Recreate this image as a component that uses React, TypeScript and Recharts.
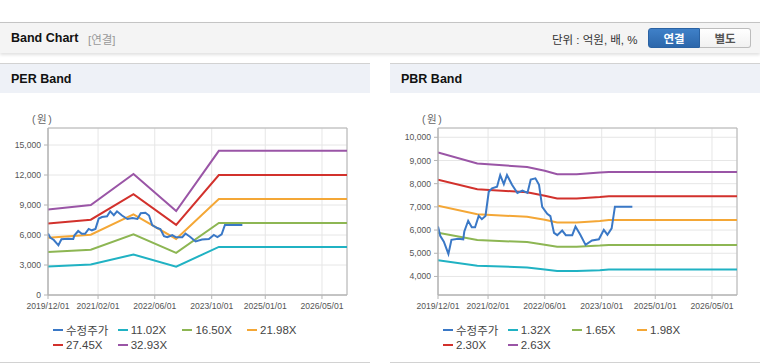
import { LineChart, Line, XAxis, YAxis, CartesianGrid, ReferenceArea } from 'recharts';

// adjusted close (수정주가), shared by both charts
const PRICE_DATES = [
  '2019-12-01', '2019-12-20', '2020-01-20', '2020-02-28', '2020-03-25', '2020-05-22',
  '2020-07-04', '2020-07-13', '2020-08-15', '2020-09-15', '2020-10-13', '2020-11-13',
  '2020-12-10', '2021-01-10', '2021-02-07', '2021-03-07', '2021-04-19', '2021-05-16',
  '2021-06-16', '2021-07-13', '2021-08-25', '2021-10-10', '2021-11-22', '2022-01-04',
  '2022-02-01', '2022-03-13', '2022-04-13', '2022-05-10', '2022-06-22', '2022-07-19',
  '2022-08-19', '2022-09-16', '2022-10-28', '2022-11-28', '2023-01-22', '2023-02-19',
  '2023-04-01', '2023-05-16', '2023-07-10', '2023-09-07', '2023-10-19', '2023-11-19',
  '2023-12-25', '2024-01-22', '2024-06-19',
];
const PRICE = [
  6150, 5750, 5500, 4970, 5580, 5620,
  5600, 5940, 6400, 6120, 6120, 6610,
  6470, 6610, 7650, 7800, 7870, 8370,
  7980, 8370, 7950, 7600, 7700, 7600,
  8180, 8230, 7950, 7000, 6700, 6600,
  5880, 5780, 5980, 5780, 5780, 6150,
  5800, 5360, 5550, 5600, 6010, 5800,
  6070, 7010, 7010,
];

const PER_DATES = ['2019-12-01', '2020-12-01', '2021-12-01', '2022-12-01', '2023-12-01', '2026-12-01'];
const PER_LABELS = ['11.02X', '16.50X', '21.98X', '27.45X', '32.93X'];
const PER_BANDS = [
  [2850, 3050, 4050, 2830, 4810, 4810],
  [4300, 4530, 6060, 4220, 7210, 7210],
  [5720, 6030, 8070, 5610, 9610, 9610],
  [7150, 7530, 10080, 7010, 12000, 12000],
  [8550, 9000, 12100, 8390, 14420, 14420],
];

const PBR_DATES = [
  '2019-12-01', '2020-11-01', '2022-01-01', '2022-06-01', '2022-09-15',
  '2023-03-01', '2023-09-15', '2023-12-01', '2026-12-01',
];
const PBR_LABELS = ['1.32X', '1.65X', '1.98X', '2.30X', '2.63X'];
const PBR_BANDS = [
  [4700, 4460, 4390, 4300, 4230, 4230, 4270, 4300, 4300],
  [5880, 5570, 5480, 5370, 5280, 5280, 5330, 5360, 5360],
  [7050, 6680, 6570, 6440, 6330, 6330, 6390, 6430, 6430],
  [8170, 7760, 7630, 7480, 7360, 7360, 7420, 7460, 7460],
  [9340, 8870, 8720, 8560, 8410, 8410, 8480, 8500, 8500],
];

const X_TICKS = ['2019-12-01', '2021-02-01', '2022-06-01', '2023-10-01', '2025-01-01', '2026-05-01'];
const X_RANGE = ['2019-12-01', '2026-12-01'];
const PER_Y_TICKS = [0, 3000, 6000, 9000, 12000, 15000];
const PER_Y_RANGE = [0, 16700];
const PBR_Y_TICKS = [4000, 5000, 6000, 7000, 8000, 9000, 10000];
const PBR_Y_RANGE = [3200, 10400];

const PRICE_COLOR = '#3a78c6';
const BAND_COLORS = ['#20b2c3', '#8db653', '#f4a736', '#d2312c', '#9a55a6'];

const FONT = "'Liberation Sans', 'Noto Sans CJK KR', sans-serif";

const ts = (d: string) => Date.parse(d + 'T00:00:00Z');
const pad = (n: number) => String(n).padStart(2, '0');
const fmtDate = (t: number) => {
  const d = new Date(t);
  return `${d.getUTCFullYear()}/${pad(d.getUTCMonth() + 1)}/${pad(d.getUTCDate())}`;
};
const toRows = (dates: string[], vals: number[]) => dates.map((d, i) => ({ t: ts(d), v: vals[i] }));

function Legend({ labels }: { labels: string[] }) {
  const items = [{ label: '수정주가', color: PRICE_COLOR }, ...labels.map((l, i) => ({ label: l, color: BAND_COLORS[i] }))];
  return (
    <div style={{ position: 'absolute', left: 53, top: 259, display: 'grid', gridTemplateColumns: 'repeat(4, 64.7px)', rowGap: 1 }}>
      {items.map(it => (
        <div key={it.label} style={{ display: 'flex', alignItems: 'center', height: 14, fontSize: 11.5, color: '#444', fontFamily: FONT }}>
          <span style={{ width: 10, height: 2.5, background: it.color, marginRight: 3 }} />
          {it.label}
        </div>
      ))}
    </div>
  );
}

function BandPanel({ left, title, dates, labels, bands, yTicks, yRange }: {
  left: number; title: string; dates: string[]; labels: string[]; bands: number[][]; yTicks: number[]; yRange: number[];
}) {
  const x0 = ts(X_RANGE[0]);
  const x1 = ts(X_RANGE[1]);
  const tickStyle = { fontSize: 8.6, fill: '#555', fontFamily: FONT };
  return (
    <div style={{ position: 'absolute', left, top: 63, width: 370, height: 300, borderTop: '1px solid #d2d2d2', borderBottom: '1px solid #d2d2d2', boxSizing: 'border-box' }}>
      <div style={{ height: 29, background: '#eef1f7', display: 'flex', alignItems: 'center', paddingLeft: 11, fontFamily: FONT, fontWeight: 'bold', fontSize: 12.5, color: '#111' }}>
        {title}
      </div>
      <div style={{ position: 'absolute', left: 32, top: 47, fontSize: 10.5, color: '#666', fontFamily: FONT, letterSpacing: 1.5 }}>(원)</div>
      <div style={{ position: 'absolute', left: 0, top: 36 }}>
        <LineChart width={370} height={220} margin={{ top: 28, right: 23, bottom: 0, left: 0 }}>
          <CartesianGrid stroke="#e6e6e6" />
          <XAxis
            dataKey="t"
            type="number"
            domain={[x0, x1]}
            ticks={X_TICKS.map(ts)}
            tickFormatter={fmtDate}
            allowDataOverflow
            height={25}
            tickSize={4}
            tickMargin={4}
            stroke="#b4b4b4"
            tick={tickStyle}
            interval={0}
          />
          <YAxis
            type="number"
            domain={yRange}
            ticks={yTicks}
            allowDataOverflow
            width={48}
            tickSize={4}
            tickMargin={3}
            stroke="#b4b4b4"
            tick={tickStyle}
            tickFormatter={(v: number) => v.toLocaleString('en-US')}
            interval={0}
          />
          <ReferenceArea x1={x0} x2={x1} y1={yRange[0]} y2={yRange[1]} fill="none" stroke="#b4b4b4" ifOverflow="visible" />
          {bands.map((vals, i) => (
            <Line
              key={labels[i]}
              data={toRows(dates, vals)}
              dataKey="v"
              stroke={BAND_COLORS[i]}
              strokeWidth={2}
              dot={false}
              type="linear"
              isAnimationActive={false}
            />
          ))}
          <Line
            data={toRows(PRICE_DATES, PRICE)}
            dataKey="v"
            stroke={PRICE_COLOR}
            strokeWidth={2}
            dot={false}
            type="linear"
            isAnimationActive={false}
          />
        </LineChart>
      </div>
      <Legend labels={labels} />
    </div>
  );
}

export default function App() {
  return (
    <div style={{ position: 'absolute', left: 0, top: 0, width: 760, height: 364, background: '#fff', overflow: 'hidden', fontFamily: FONT }}>
      <div style={{ position: 'absolute', left: 0, top: 22, width: 760, height: 31, background: '#f4f4f4', borderTop: '1px solid #c4c4c4', boxSizing: 'border-box', boxShadow: '0 2px 3px rgba(0,0,0,0.12)' }}>
        <span style={{ position: 'absolute', left: 11, top: 8, fontWeight: 'bold', fontSize: 12.5, color: '#111' }}>Band Chart</span>
        <span style={{ position: 'absolute', left: 88, top: 8, fontSize: 11.5, color: '#999' }}>[연결]</span>
        <span style={{ position: 'absolute', left: 552, top: 8, fontSize: 11.5, color: '#333' }}>단위 : 억원, 배, %</span>
        <div style={{ position: 'absolute', left: 648, top: 5, width: 52, height: 20, boxSizing: 'border-box', borderRadius: '3px 0 0 3px', background: 'linear-gradient(#3f80c8, #2c67ab)', border: '1px solid #2a62a3', color: '#fff', fontWeight: 'bold', fontSize: 11.5, display: 'flex', alignItems: 'center', justifyContent: 'center' }}>연결</div>
        <div style={{ position: 'absolute', left: 700, top: 5, width: 51, height: 20, boxSizing: 'border-box', borderRadius: '0 3px 3px 0', background: 'linear-gradient(#ffffff, #f1f1f1)', border: '1px solid #bcbcbc', borderLeft: 'none', color: '#555', fontWeight: 'bold', fontSize: 11.5, display: 'flex', alignItems: 'center', justifyContent: 'center' }}>별도</div>
      </div>
      <BandPanel left={0} title="PER Band" dates={PER_DATES} labels={PER_LABELS} bands={PER_BANDS} yTicks={PER_Y_TICKS} yRange={PER_Y_RANGE} />
      <BandPanel left={390} title="PBR Band" dates={PBR_DATES} labels={PBR_LABELS} bands={PBR_BANDS} yTicks={PBR_Y_TICKS} yRange={PBR_Y_RANGE} />
    </div>
  );
}
